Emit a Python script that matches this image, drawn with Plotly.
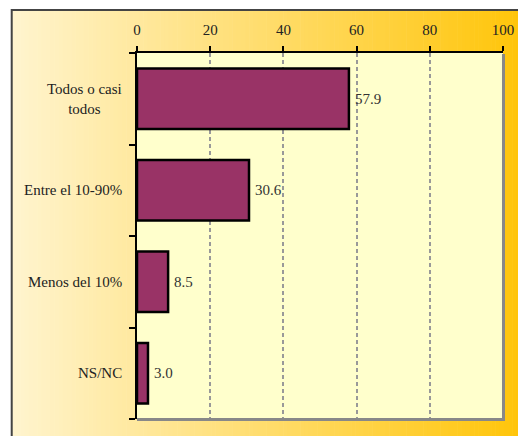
import plotly.graph_objects as go

categories = ["Todos o casi<br>todos", "Entre el 10-90%", "Menos del 10%", "NS/NC"]
values = [57.9, 30.6, 8.5, 3.0]
tick_vals = [0, 20, 40, 60, 80, 100]

OFF = 8  # default body margin of the page
W, H = 526 - OFF, 436 - OFF
# plot area in page pixels: x 137..508, y 53..419
PL, PR, PT, PB = 137, 508, 53, 419
L, T = PL - OFF, PT - OFF
R, B = (W + OFF) - PR, (H + OFF) - PB
pw = PR - PL
ph = PB - PT

def xp(px):  # page px -> paper x
    return (px - PL) / pw

def yp(py):  # page px -> paper y
    return (PB - py) / ph

FONT = "Liberation Serif"

fig = go.Figure()
fig.add_trace(go.Bar(
    y=list(range(len(categories))), x=values, orientation="h",
    marker=dict(color="#993366", line=dict(color="#000000", width=2.5)),
    text=[f"\u2009{v:.1f}" for v in values], textposition="outside",
    textfont=dict(family=FONT, size=15, color="#333333"),
    cliponaxis=False, width=0.66,
))

shapes = []
x0px, x1px = 10, 526
n = 120
c0 = (255, 244, 206)
c1 = (255, 197, 10)
for i in range(n):
    a = x0px + (x1px - x0px) * i / n
    b = x0px + (x1px - x0px) * (i + 1) / n + 0.6
    t = i / (n - 1)
    col = tuple(int(round(c0[k] + (c1[k] - c0[k]) * t)) for k in range(3))
    shapes.append(dict(type="rect", xref="paper", yref="paper",
                       x0=xp(a), x1=xp(b), y0=yp(445), y1=yp(10),
                       fillcolor=f"rgb{col}", line=dict(width=0), layer="below"))
shapes.append(dict(type="rect", xref="paper", yref="paper",
                   x0=xp(10), x1=xp(540), y0=yp(450), y1=yp(10),
                   line=dict(color="#444444", width=2), layer="below"))
shapes.append(dict(type="rect", xref="paper", yref="paper", x0=0, x1=1, y0=0, y1=1,
                   fillcolor="#FFFFCC", line=dict(width=0), layer="below"))
shapes.append(dict(type="line", xref="paper", yref="paper",
                   x0=xp(508.5), x1=xp(508.5), y0=yp(420.5), y1=yp(54),
                   line=dict(color="#888888", width=3)))
shapes.append(dict(type="line", xref="paper", yref="paper",
                   x0=0, x1=xp(510), y0=yp(419.5), y1=yp(419.5),
                   line=dict(color="#888888", width=3)))

annotations = []
for i, c in enumerate(categories):
    annotations.append(dict(text=c, xref="paper", yref="y", x=xp(124), y=i,
                            xanchor="right", yanchor="middle", align="center", showarrow=False,
                            font=dict(family=FONT, size=15, color="#222222")))

fig.update_layout(
    width=W, height=H, margin=dict(l=L, r=R, t=T, b=B, pad=0),
    paper_bgcolor="#FFFFFF", plot_bgcolor="rgba(0,0,0,0)",
    showlegend=False, shapes=shapes, annotations=annotations,
    xaxis=dict(side="top", range=[0, 100], tickvals=tick_vals, ticks="outside", ticklen=5,
               tickwidth=1.5, tickcolor="#000000", showline=True, linecolor="#000000", linewidth=2,
               showgrid=True, gridcolor="#999999", griddash="4px,3px", gridwidth=1.5,
               zeroline=False, ticklabelstandoff=5,
               tickfont=dict(family=FONT, size=15, color="#222222")),
    yaxis=dict(range=[3.5, -0.5], tickvals=[-0.5, 0.5, 1.5, 2.5, 3.5], showticklabels=False,
               ticks="outside", ticklen=6, tickwidth=1.5, tickcolor="#000000",
               showline=True, linecolor="#000000", linewidth=2, showgrid=False, zeroline=False),
)

fig.write_html("out.html")
